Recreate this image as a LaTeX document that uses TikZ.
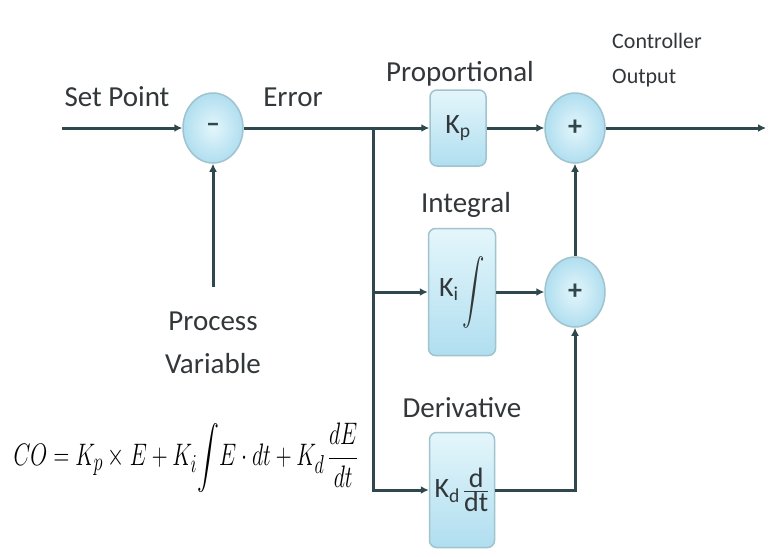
\documentclass[tikz,border=0pt]{standalone}
\usepackage{amsmath}
\usepackage{fontspec}
\setmainfont{Carlito}
\usetikzlibrary{shapes.geometric,arrows.meta}
\definecolor{wirec}{RGB}{46,72,78}
\definecolor{txtc}{RGB}{50,55,58}
\definecolor{edgec}{RGB}{160,196,206}
\definecolor{filltop}{RGB}{228,246,251}
\definecolor{fillbot}{RGB}{176,222,240}
\tikzset{
  wire/.style={draw=wirec,line width=3pt,-{Latex[length=8pt,width=8pt]}},
  sumnode/.style={ellipse,draw=edgec,line width=1.5pt,inner color=filltop,outer color=fillbot,minimum width=60pt,minimum height=70pt,inner sep=0pt,text=wirec,font=\fontsize{28}{30}\selectfont\bfseries},
  gainbox/.style={rectangle,rounded corners=7pt,draw=edgec,line width=1.5pt,top color=filltop,bottom color=fillbot,inner sep=0pt,text=txtc,font=\fontsize{28}{30}\selectfont},
  lbl/.style={text=txtc,font=\fontsize{29}{34}\selectfont,inner sep=0pt}
}
\begin{document}
\begin{tikzpicture}[x=1pt,y=-1pt]
\useasboundingbox[fill=white] (0,0) rectangle (769,557);
% summing junctions
\node[sumnode] (m) at (213,128) {--};
\node[sumnode] (s1) at (575,128) {+};
\node[sumnode] (s2) at (575,292) {+};
% gain blocks
\node[gainbox,minimum width=56pt,minimum height=76pt] (kp) at (458,128) {K\textsubscript{p}};
\node[gainbox,minimum width=67pt,minimum height=127pt] (ki) at (462,292) {K\textsubscript{i}\hspace{4pt}\raisebox{-0.3ex}{\scalebox{0.9}[1.3]{$\displaystyle\int$}}};
\node[gainbox,minimum width=65pt,minimum height=115pt] (kd) at (462,490) {K\textsubscript{d}\hspace{3pt}$\genfrac{}{}{0.8pt}{}{\hbox{d}}{\hbox{dt}}$};
% labels
\node[lbl] (lsp) at (117,97) {Set Point};
\node[lbl] (ler) at (293,97) {Error};
\node[lbl] (lpr) at (460,74) {Proportional};
\node[lbl,anchor=west,align=left,font=\fontsize{22}{35}\selectfont] (lco) at (612,60) {Controller\\Output};
\node[lbl] (lin) at (466,205) {Integral};
\node[lbl] (lde) at (462,408) {Derivative};
\node[lbl,align=center,font=\fontsize{29}{43}\selectfont] (lpv) at (213,343) {Process\\Variable};
\node[inner sep=0pt] (eq) at (186,458) {\scalebox{0.88}[1.25]{\fontsize{24.88}{30}\selectfont $\displaystyle CO = K_p \times E + K_i\!\int\! E\cdot dt + K_d\,\frac{dE}{dt}$}};
% connectors
\coordinate (sp) at (62,128);
\coordinate (br) at (373,128);
\coordinate (out) at (766,128);
\coordinate (pv) at (213,287);
\draw[wire] (sp) -- (m.west);
\draw[wire] (pv) -- (m.south);
\draw[wire] (m.east) -- (kp.west);
\draw[wire] (br) |- (ki.west);
\draw[wire] (br) |- (kd.west);
\draw[wire] (kp.east) -- (s1.west);
\draw[wire] (ki.east) -- (s2.west);
\draw[wire] (s2.north) -- (s1.south);
\draw[wire] (kd.east) -| (s2.south);
\draw[wire] (s1.east) -- (out);
\end{tikzpicture}
\end{document}
